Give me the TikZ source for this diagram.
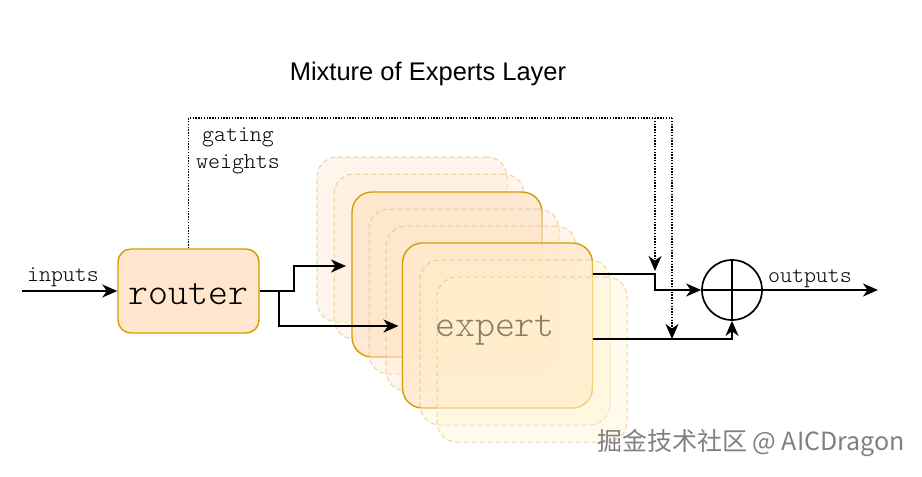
\documentclass[tikz,border=0pt]{standalone}
\usepackage{fontspec}
\setmainfont{Liberation Sans}
\newfontfamily\mycjk{Noto Sans CJK SC}
\newfontfamily\mymono{Latin Modern Mono Light}
\usetikzlibrary{arrows.meta,calc}
\definecolor{rfill}{HTML}{FFE6CC}
\definecolor{rdraw}{HTML}{D79B00}
\definecolor{yfill}{HTML}{FFF2CC}
\definecolor{ydraw}{HTML}{D6B656}
\definecolor{exptext}{HTML}{8C7D6B}
\definecolor{wmark}{HTML}{808080}
\tikzset{
  tip/.style={-{Stealth[length=15pt,width=13pt,inset=4.5pt]}},
  arr/.style={line width=1.7pt,tip},
  dotline/.style={line width=1.4pt,dash pattern=on 1.4pt off 1.4pt},
  solidbox/.style={rectangle,rounded corners=20pt,minimum width=190pt,minimum height=165pt,
     inner sep=0pt,outer sep=0pt,draw=rdraw,line width=1.4pt,fill=rfill,fill opacity=0.85},
  ghostbox/.style={rectangle,rounded corners=20pt,minimum width=190pt,minimum height=165pt,
     inner sep=0pt,outer sep=0pt,draw=ydraw,draw opacity=0.55,dash pattern=on 5pt off 3pt,line width=1pt,fill opacity=0.38},
  lbl/.style={font=\mymono\fontsize{22.8}{27}\selectfont,inner sep=0pt},
}
\begin{document}
\begin{tikzpicture}[x=1pt,y=-1pt]
\useasboundingbox (0,0) rectangle (922,477);

\node[font=\fontsize{25.5}{30}\selectfont] (title) at (428,74) {Mixture of Experts Layer};

% expert stack
\node[ghostbox,fill=rfill] (d1) at (412,239.5) {};
\node[ghostbox,fill=rfill] (d2) at (429,256.5) {};
\node[solidbox] (e1) at (447,274.5) {};
\node[ghostbox,fill=rfill] (d3) at (464,291.5) {};
\node[ghostbox,fill=rfill] (d4) at (481,308.5) {};
\node[solidbox,fill=rfill!75!yfill] (e2) at (497.5,325.5) {};
\node[ghostbox,fill=yfill] (d5) at (515,342.5) {};
\node[ghostbox,fill=yfill] (d6) at (532,359.5) {};
\node[font=\mymono\fontsize{38}{40}\selectfont,text=exptext,inner sep=0pt] (etext) at (495,330) {expert};

% router
\node[rectangle,rounded corners=13pt,minimum width=141pt,minimum height=84pt,
      draw=rdraw,line width=1.4pt,fill=rfill,inner sep=0pt,
      font=\mymono\fontsize{38}{40}\selectfont] (router) at (188.5,291) {};
\node[font=\mymono\fontsize{38}{40}\selectfont,inner sep=0pt] (rtext) at (188.5,294) {router};

% sum
\node[circle,draw,line width=1.7pt,minimum size=60pt,inner sep=0pt] (sum) at (732,290) {};
\draw[line width=1.7pt] (sum.north) -- (sum.south) (sum.west) -- (sum.east);

% coordinates
\coordinate (in) at (22,291);
\coordinate (out) at (878,290);
\coordinate (y266) at (0,266);
\coordinate (y326) at (0,326);
\coordinate (o1) at (655,274);
\coordinate (o2) at (672,339);
\coordinate (gtop) at (0,118);

% labels
\node[lbl] (inlbl) at (63,277) {inputs};
\node[lbl] (outlbl) at (810,279) {outputs};
\node[lbl,align=center] (gw) at (238,151) {gating\\weights};

% connectors
\draw[arr] (in) -- (router.west);
\draw[arr,shorten >=6pt] (router.east) -- ++(34,0) |- (e1.west |- y266);
\draw[arr,shorten >=4pt] (router.east) -- ++(19,0) |- (e2.west |- y326);
\draw[arr] (e2.east |- o1) -- (o1) |- (sum.west);
\draw[arr] (e2.east |- o2) -| (sum.south);
\draw[arr] (sum.east) -- (out);
\draw[dotline] (router.north) -- (router.north |- gtop) -- (o2 |- gtop);
\draw[dotline,tip,shorten >=3pt] (o1 |- gtop) -- (o1);
\draw[dotline,tip] (o2 |- gtop) -- (o2);

% watermark
\node[font=\mycjk\fontsize{25}{30}\selectfont,text=wmark,anchor=east,inner sep=0pt] (wm) at (905,443) {掘金技术社区 @ AICDragon};
\end{tikzpicture}
\end{document}
